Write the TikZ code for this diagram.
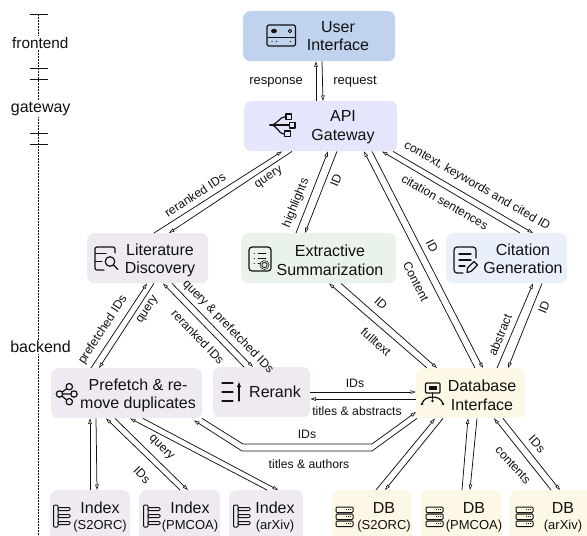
\documentclass[tikz,border=0pt]{standalone}
\usepackage{fontspec}
\setmainfont{Liberation Sans}
\usetikzlibrary{arrows.meta}
\definecolor{cUI}{HTML}{BFD2EE}
\definecolor{cAPI}{HTML}{E5E5FC}
\definecolor{cLit}{HTML}{EFEAF2}
\definecolor{cExt}{HTML}{EAF3EA}
\definecolor{cCit}{HTML}{E9F0FC}
\definecolor{cDB}{HTML}{FDF7E6}
\definecolor{ink}{HTML}{111111}
\tikzset{
  box/.style={rectangle,rounded corners=7pt,draw=none,anchor=north west,inner sep=0pt},
  ttl/.style={align=center,font=\fontsize{16}{18.5}\selectfont,text=ink,inner sep=0pt},
  sub/.style={font=\fontsize{13}{15}\selectfont,text=ink,inner sep=0pt},
  lab/.style={font=\fontsize{12.2}{14}\selectfont,text=ink,inner sep=0pt},
  lab top/.style={font=\fontsize{13}{15}\selectfont,text=ink,inner sep=0pt},
  side/.style={font=\fontsize{16}{18}\selectfont,text=ink,inner sep=1.5pt,fill=white},
  conn/.style={draw=ink,line width=0.75pt,-{Triangle[open,length=5.5pt,width=3.5pt,line width=0.6pt]}},
  icon/.style={draw=ink,line width=1.2pt,line cap=round,line join=round},
  thin icon/.style={draw=ink,line width=0.8pt,line cap=round,line join=round},
}
\newcommand{\conn}[4]{\draw[conn] ([xshift=#2pt]#1) -- ([xshift=#4pt]#3);}
\begin{document}
\begin{tikzpicture}[x=1pt,y=-1pt]
\useasboundingbox (0,0) rectangle (587,536);
% axis
\draw[ink,line width=0.6pt,dash pattern=on 1.5pt off 1.5pt] (38.5,14) -- (38.5,536);
\foreach \yy in {14,68,79,133,144} \draw[ink,line width=0.6pt] (29.5,\yy) -- (47.5,\yy);
\node[side,font=\fontsize{15.3}{18}\selectfont] (sfront) at (40.3,43) {frontend};
\node[side] (sgate) at (40.7,109) {gateway};
\node[side] (sback) at (40.5,347) {backend};
% boxes
\node[box,fill=cUI,minimum width=152pt,minimum height=50pt] (ui) at (243,11) {};
\node[box,fill=cAPI,minimum width=153pt,minimum height=50pt] (api) at (244,101) {};
\node[box,fill=cLit,minimum width=121pt,minimum height=50pt] (lit) at (87,233) {};
\node[box,fill=cExt,minimum width=155pt,minimum height=50pt] (ext) at (241,233) {};
\node[box,fill=cCit,minimum width=121pt,minimum height=50pt] (cit) at (446,233) {};
\node[box,fill=cLit,minimum width=151pt,minimum height=50pt] (pre) at (51,368) {};
\node[box,fill=cLit,minimum width=97pt,minimum height=50pt] (rer) at (213,367) {};
\node[box,fill=cDB,minimum width=109pt,minimum height=50pt] (dbi) at (416,368) {};
\node[box,fill=cLit,minimum width=80pt,minimum height=52pt] (ia) at (50,490) {};
\node[box,fill=cLit,minimum width=81pt,minimum height=52pt] (ib) at (139,490) {};
\node[box,fill=cLit,minimum width=74pt,minimum height=52pt] (ic) at (229,490) {};
\node[box,fill=cDB,minimum width=80pt,minimum height=52pt] (da) at (332,490) {};
\node[box,fill=cDB,minimum width=81pt,minimum height=52pt] (db) at (421,490) {};
\node[box,fill=cDB,minimum width=82pt,minimum height=52pt] (dc) at (510,490) {};
% titles
\node[ttl] (tui) at (338,36) {User\\Interface};
\node[ttl] (tapi) at (343,127) {API\\Gateway};
\node[ttl] (tlit) at (160,260.5) {Literature\\Discovery};
\node[ttl] (text) at (330,260.5) {Extractive\\Summarization};
\node[ttl] (tcit) at (523,259) {Citation\\Generation};
\node[ttl] (tpre) at (138,395.5) {Prefetch \& re-\\move duplicates};
\node[ttl] (trer) at (275,392) {Rerank};
\node[ttl] (tdbi) at (482,395.5) {Database\\Interface};
\foreach \n/\x/\t/\ss in {ia/100/Index/S2ORC,ib/190/Index/PMCOA,ic/275/Index/arXiv,da/384/DB/S2ORC,db/474/DB/PMCOA,dc/563/DB/arXiv}{
  \node[ttl] (t\n) at (\x,508) {\t};
  \node[sub] (s\n) at (\x,526) {(\ss)};
}
% connectors
\conn{api.north west}{72}{ui.south west}{73}
\conn{ui.south west}{79}{api.north west}{79}
\conn{lit.north west}{67}{api.south west}{38}
\conn{api.south west}{48}{lit.north west}{82}
\conn{ext.north west}{55}{api.south west}{84}
\conn{api.south west}{93}{ext.north west}{64}
\conn{dbi.north west}{59}{api.south west}{120}
\conn{api.south west}{128}{dbi.north west}{67}
\conn{cit.north west}{74}{api.south west}{138}
\conn{api.south west}{149}{cit.north west}{87}
\conn{dbi.north west}{81}{cit.south west}{87}
\conn{cit.south west}{96}{dbi.north west}{92}
\conn{dbi.north west}{11}{ext.south west}{88}
\conn{ext.south west}{100}{dbi.north west}{21}
\conn{pre.north west}{40}{lit.south west}{60}
\conn{lit.south west}{67}{pre.north west}{48}
\conn{rer.north west}{31}{lit.south west}{76}
\conn{lit.south west}{85}{rer.north west}{40}
\conn{ia.north west}{40}{pre.south west}{39}
\conn{pre.south west}{45}{ia.north west}{47}
\conn{ib.north west}{41}{pre.south west}{55}
\conn{pre.south west}{64}{ib.north west}{49}
\conn{ic.north west}{38}{pre.south west}{79}
\conn{pre.south west}{92}{ic.north west}{49}
\conn{da.north west}{44}{dbi.south west}{19}
\conn{dbi.south west}{27}{da.north west}{53}
\conn{db.north west}{41}{dbi.south west}{52}
\conn{dbi.south west}{61}{db.north west}{49}
\conn{dc.north west}{41}{dbi.south west}{78}
\conn{dbi.south west}{87}{dc.north west}{50}
\draw[conn] ([yshift=-25pt]rer.north east) -- ([yshift=-24pt]dbi.north west);
\draw[conn] ([yshift=-31pt]dbi.north west) -- ([yshift=-32pt]rer.north east);
\coordinate (ka) at (243,444);
\coordinate (kb) at (372,444);
\coordinate (kc) at (372,451);
\coordinate (kd) at (242,451);
\draw[conn] ([xshift=151pt]pre.south west) -- (ka) -- (kb) -- ([yshift=-44pt]dbi.north west);
\draw[conn] ([xshift=1pt]dbi.south west) -- (kc) -- (kd) -- ([xshift=143pt,yshift=-2pt]pre.south west);
% labels
\node[lab top] (lresp) at (276,82) {response};
\node[lab top] (lreq) at (355,82) {request};
\foreach \x/\y/\a/\t in {
 195/195/33/reranked IDs, 269/178/33/query,
 296/203/68/highlights, 336/180/68/ID,
 103/330/57/prefetched IDs, 148/310/57/query,
 198/337/-46/reranked IDs, 228/327/-46/query \& prefetched IDs,
 416/282/-63/Content, 432/246/-63/ID,
 477/186/-30/{context, keywords and cited ID}, 445/202/-30/citation sentences,
 500/335/68/abstract, 544/307/68/ID,
 381/303/-41/ID, 376/342/-41/fulltext,
 355/383/0/IDs, 357/411/0/titles \& abstracts,
 307/434/0/IDs, 309/464/0/titles \& authors,
 161/448/-45/query, 142/475/-45/IDs,
 537/444/-48/IDs, 513/465/-48/contents}{
  \node[lab,rotate=\a] at (\x,\y) {\t};
}
% UI icon
\draw[icon,rounded corners=1.5pt] (267,25) rectangle (295.5,46);
\draw[thin icon,line width=1.1pt] (268,37.3) -- (295,37.3);
\fill[ink] (274,31) ellipse (3pt and 2.2pt);
\draw[thin icon] (290,31) circle (1.8pt);
\fill[ink] (272,41.5) circle (0.7pt) (276.5,41.5) circle (0.7pt) (290.5,41.5) circle (0.7pt);
% API icon
\draw[icon] (270,125) -- (289,125);
\draw[icon] (270,125) .. controls (278,125) and (279,116.5) .. (286,116.5);
\draw[icon] (270,125) .. controls (278,125) and (278,134) .. (284,134);
\draw[icon] (286,114) rectangle (291.5,119.5);
\draw[icon] (289.5,122.5) rectangle (295,128);
\draw[icon] (284.5,131) rectangle (290.5,136.5);
% Lit icon
\draw[icon,rounded corners=2pt] (115,253) -- (115,247) -- (95,247) -- (95,270) -- (104,270);
\draw[icon] (95.5,253.5) -- (106,253.5) (95.5,261.5) -- (102,261.5);
\draw[icon] (110,261.5) circle (4.8pt);
\draw[icon] (113.5,265) -- (118,269.5);
% Ext icon
\draw[icon,rounded corners=3pt] (249,247) rectangle (271,271);
\draw[thin icon] (254,253) -- (254.5,253) (258,253) -- (266,253) (254,258) -- (254.5,258) (258,258) -- (266,258) (254,263) -- (254.5,263) (258,263) -- (261,263);
\draw[thin icon,fill=cExt,densely dotted] (264.5,265) circle (4.5pt);
\draw[thin icon,fill=cExt] (264.5,265) circle (2.6pt);
% Cit icon
\draw[icon,rounded corners=3pt] (476,258) -- (476,247) -- (454,247) -- (454,273) -- (463,273);
\draw[icon] (459,254) -- (471,254) (459,260) -- (471,260) (459,266) -- (465,266);
\draw[icon] (467,272.5) -- (467.5,268) -- (474,261.5) -- (477.5,265) -- (471,271.5) -- cycle;
% Prefetch icon
\draw[icon] (59.5,394) -- (69,387) (59.5,394) -- (74,394) (59.5,394) -- (69,402);
\draw[icon,fill=cLit] (59.5,394) circle (3.2pt) (69.3,386.7) circle (3.2pt) (74,394) circle (3.2pt) (69.3,401.7) circle (3.2pt);
% Rerank icon
\draw[icon] (222,383) -- (233,383) (222,392) -- (233,392) (222,401) -- (233,401);
\draw[icon] (239,401) -- (239,385);
\fill[ink] (239,382) -- (241,387) -- (237,387) -- cycle;
% DBI icon
\draw[icon,rounded corners=1pt] (425.5,383) rectangle (440,393);
\fill[ink] (428.5,385.5) rectangle (437,389.5);
\draw[icon] (432.5,393) -- (432.5,399);
\draw[icon] (422,404) .. controls (423,399) and (428,397) .. (432.5,397) .. controls (437,397) and (442,399) .. (443,404);
\fill[ink] (422,404) circle (1.3pt) (443,404) circle (1.3pt) (432.5,401) circle (1.3pt);
% Index and DB icons
\foreach \d in {0,90,180}{
  \draw[icon,rounded corners=1pt,line width=1pt] (53.5+\d,505) rectangle (58+\d,527);
  \draw[thin icon,rounded corners=1pt,line width=1pt] (58+\d,507.5) rectangle (70+\d,510.5) (58+\d,514.5) rectangle (70+\d,517.5) (58+\d,521.5) rectangle (70+\d,524.5);
  \draw[thin icon,line width=1pt,rounded corners=1pt] (336+\d,507) rectangle (353+\d,512.5) (336+\d,514) rectangle (353+\d,519.5) (336+\d,521) rectangle (353+\d,526.5);
  \foreach \yy in {509.7,516.7,523.7}
    \draw[ink,line width=0.6pt,dash pattern=on 1pt off 1pt] (346+\d,\yy) -- (351+\d,\yy);
}
\end{tikzpicture}
\end{document}
